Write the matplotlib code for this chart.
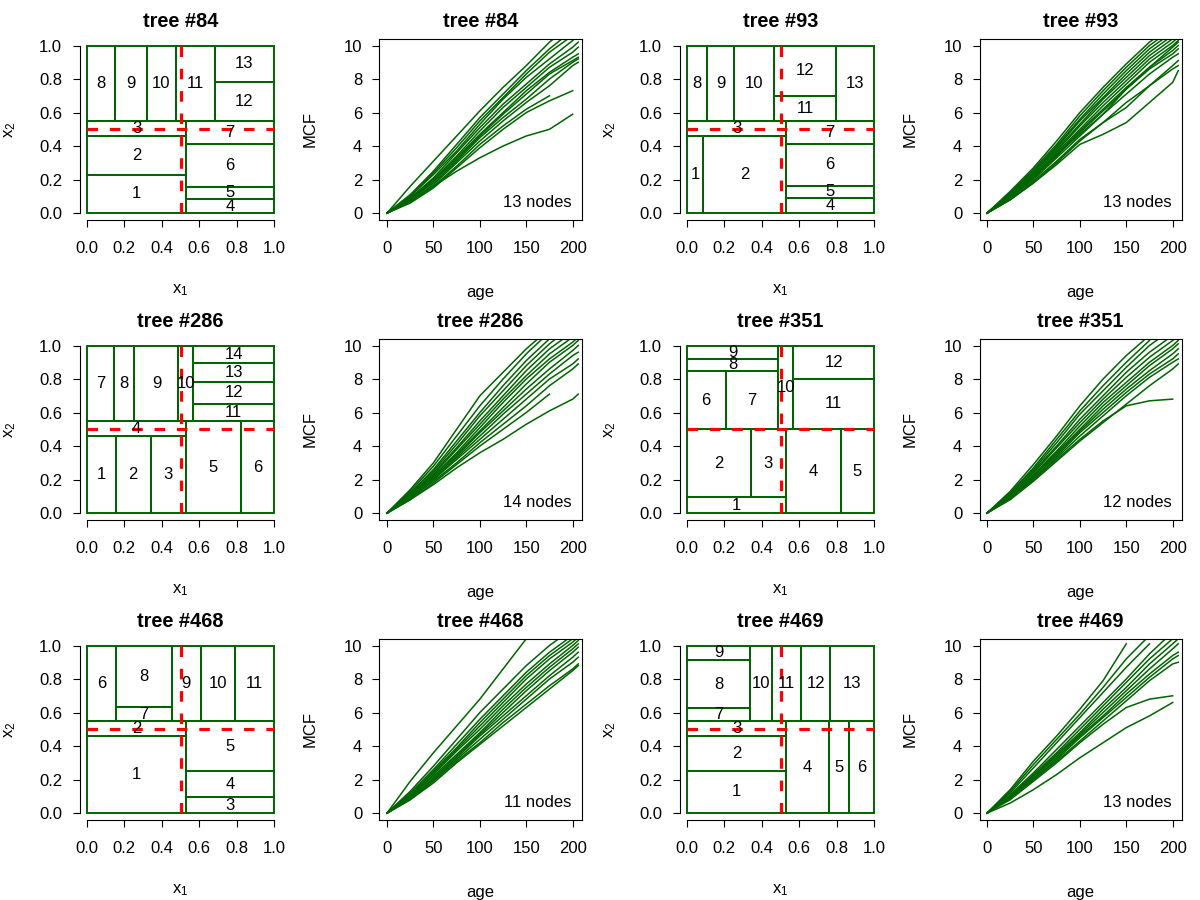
import numpy as np
import matplotlib
matplotlib.use('Agg')
import matplotlib.pyplot as plt

plt.rcParams['font.family'] = ['Liberation Sans', 'DejaVu Sans']
plt.rcParams['font.size'] = 12

GREEN = '#006400'

trees = ['84', '93', '286', '351', '468', '469']
nodes = [13, 13, 14, 12, 11, 13]

# terminal node cells (x0, x1, y0, y1); node number = index + 1
cells_84 = [(0, .53, 0, .23), (0, .53, .23, .462), (0, .53, .462, .548),
            (.53, 1, 0, .083), (.53, 1, .083, .157), (.53, 1, .157, .415),
            (.53, 1, .415, .548), (0, .152, .548, 1), (.152, .319, .548, 1),
            (.319, .477, .548, 1), (.477, .683, .548, 1), (.683, 1, .548, .784),
            (.683, 1, .784, 1)]
cells_93 = [(0, .086, 0, .462), (.086, .53, 0, .462), (0, .53, .462, .548),
            (.53, 1, 0, .091), (.53, 1, .091, .163), (.53, 1, .163, .415),
            (.53, 1, .415, .548), (0, .108, .548, 1), (.108, .253, .548, 1),
            (.253, .466, .548, 1), (.466, .797, .548, .696), (.466, .797, .696, 1),
            (.797, 1, .548, 1)]
cells_286 = [(0, .154, 0, .462), (.154, .341, 0, .462), (.341, .53, 0, .462),
             (0, .53, .462, .548), (.53, .821, 0, .548), (.821, 1, 0, .548),
             (0, .143, .548, 1), (.143, .254, .548, 1), (.254, .489, .548, 1),
             (.489, .568, .548, 1), (.568, 1, .548, .653), (.568, 1, .653, .782),
             (.568, 1, .782, .897), (.568, 1, .897, 1)]
cells_351 = [(0, .53, 0, .095), (0, .341, .095, .5), (.341, .53, .095, .5),
             (.53, .821, 0, .5), (.821, 1, 0, .5), (0, .206, .5, .849),
             (.206, .487, .5, .849), (0, .487, .849, .921), (0, .487, .921, 1),
             (.487, .568, .5, 1), (.568, 1, .5, .802), (.568, 1, .802, 1)]
cells_468 = [(0, .53, 0, .462), (0, .53, .462, .548), (.53, 1, 0, .095),
             (.53, 1, .095, .252), (.53, 1, .252, .548), (0, .154, .548, 1),
             (.154, .452, .548, .631), (.154, .452, .631, 1), (.452, .609, .548, 1),
             (.609, .79, .548, 1), (.79, 1, .548, 1)]
cells_469 = [(0, .53, 0, .254), (0, .53, .254, .462), (0, .53, .462, .548),
             (.53, .76, 0, .548), (.76, .866, 0, .548), (.866, 1, 0, .548),
             (0, .339, .548, .625), (0, .339, .625, .911), (0, .339, .911, 1),
             (.339, .452, .548, 1), (.452, .609, .548, 1), (.609, .767, .548, 1),
             (.767, 1, .548, 1)]
cells = [cells_84, cells_93, cells_286, cells_351, cells_468, cells_469]

# MCF curves read at these ages (None = curve ended)
ages = [0, 25, 50, 75, 100, 125, 150, 175, 200, 206]
mcf_84 = [
    [0, 1.6, 3.1, 4.6, 6.1, 7.5, 8.8, 10.2, 11.3, None],
    [0, 1.1, 2.5, 4.1, 5.7, 7.1, 8.5, 9.8, 10.9, None],
    [0, 1.0, 2.4, 3.9, 5.5, 6.9, 8.3, 9.6, 10.6, 10.9],
    [0, 1.0, 2.3, 3.7, 5.3, 6.8, 8.1, 9.2, 10.3, 10.6],
    [0, 0.9, 2.1, 3.6, 5.1, 6.5, 7.7, 8.9, 9.9, 10.2],
    [0, 0.9, 2.0, 3.4, 4.9, 6.3, 7.5, 8.7, 9.6, 9.9],
    [0, 0.8, 2.0, 3.3, 4.7, 6.0, 7.3, 8.4, 9.3, 9.5],
    [0, 0.8, 1.9, 3.2, 4.6, 5.9, 7.1, 8.3, 9.1, 9.3],
    [0, 0.8, 1.8, 3.1, 4.5, 5.7, 6.8, 8.0, 9.0, 9.2],
    [0, 0.7, 1.7, 3.0, 4.3, 5.5, 6.6, 7.6, 8.8, 9.0],
    [0, 0.7, 1.6, 2.8, 4.1, 5.2, 6.2, 7.0, None, None],
    [0, 0.6, 1.5, 2.7, 3.9, 5.0, 6.0, 6.7, 7.3, None],
    [0, 0.7, 1.6, 2.5, 3.3, 4.0, 4.6, 5.0, 5.9, None],
]
mcf_93 = [
    [0, 1.3, 2.7, 4.3, 6.0, 7.5, 8.9, 10.2, 11.2, None],
    [0, 1.2, 2.6, 4.1, 5.8, 7.3, 8.7, 10.0, 11.0, None],
    [0, 1.2, 2.5, 4.0, 5.6, 7.1, 8.5, 9.8, 10.8, None],
    [0, 1.1, 2.4, 3.9, 5.5, 6.9, 8.3, 9.6, 10.6, None],
    [0, 1.1, 2.4, 3.8, 5.3, 6.8, 8.1, 9.4, 10.4, 10.7],
    [0, 1.0, 2.3, 3.7, 5.2, 6.6, 7.9, 9.2, 10.2, 10.5],
    [0, 1.0, 2.2, 3.6, 5.0, 6.4, 7.7, 9.0, 10.0, 10.3],
    [0, 0.9, 2.1, 3.5, 4.9, 6.2, 7.5, 8.7, 9.7, 10.0],
    [0, 0.9, 2.1, 3.4, 4.8, 6.1, 7.4, 8.6, 9.5, 9.8],
    [0, 0.9, 2.0, 3.3, 4.6, 5.9, 7.1, 8.3, 9.3, 9.5],
    [0, 0.8, 1.9, 3.1, 4.4, 5.4, 6.3, 7.6, 8.8, 9.1],
    [0, 0.8, 1.8, 2.9, 4.1, 4.7, 5.4, 6.6, 7.8, 8.5],
    [0, 0.8, 1.8, 3.0, 4.3, 5.4, 6.6, 7.6, 8.6, 8.8],
    [0, 1.0, 2.2, 3.5, 4.7, 5.9, 7.4, 8.7, 9.9, 10.2],
]
mcf_286 = [
    [0, 1.4, 3.0, 5.0, 7.0, 8.4, 9.8, 11.0, None, None],
    [0, 1.3, 2.8, 4.6, 6.4, 8.0, 9.5, 10.8, None, None],
    [0, 1.2, 2.6, 4.3, 6.0, 7.6, 9.1, 10.4, None, None],
    [0, 1.2, 2.5, 4.1, 5.8, 7.3, 8.8, 10.1, 11.2, None],
    [0, 1.1, 2.4, 3.9, 5.5, 7.0, 8.5, 9.8, 10.8, None],
    [0, 1.1, 2.3, 3.8, 5.3, 6.8, 8.2, 9.5, 10.5, 10.8],
    [0, 1.0, 2.2, 3.6, 5.1, 6.6, 8.0, 9.2, 10.2, 10.5],
    [0, 1.0, 2.2, 3.5, 4.9, 6.3, 7.7, 9.0, 10.0, 10.3],
    [0, 1.0, 2.1, 3.4, 4.8, 6.1, 7.4, 8.6, 9.7, 10.0],
    [0, 0.9, 2.0, 3.3, 4.6, 5.9, 7.1, 8.3, 9.4, 9.6],
    [0, 0.9, 2.0, 3.2, 4.4, 5.6, 6.8, 8.0, 8.9, 9.2],
    [0, 0.9, 1.9, 3.0, 4.2, 5.3, 6.4, 7.6, 8.6, 8.9],
    [0, 0.8, 1.8, 2.9, 4.0, 5.0, 6.0, 7.1, None, None],
    [0, 0.8, 1.7, 2.7, 3.6, 4.4, 5.3, 6.1, 6.8, 7.1],
]
mcf_351 = [
    [0, 1.3, 2.9, 4.6, 6.4, 8.0, 9.4, 10.6, None, None],
    [0, 1.2, 2.7, 4.4, 6.1, 7.6, 9.0, 10.3, None, None],
    [0, 1.2, 2.6, 4.2, 5.9, 7.3, 8.7, 10.0, 11.0, None],
    [0, 1.1, 2.5, 4.0, 5.6, 7.0, 8.4, 9.6, 10.6, None],
    [0, 1.1, 2.4, 3.9, 5.4, 6.8, 8.1, 9.3, 10.3, 10.6],
    [0, 1.0, 2.3, 3.7, 5.2, 6.6, 7.8, 9.0, 10.0, 10.3],
    [0, 1.0, 2.2, 3.6, 5.0, 6.4, 7.6, 8.8, 9.8, 10.1],
    [0, 1.0, 2.2, 3.5, 4.9, 6.2, 7.4, 8.5, 9.5, 9.8],
    [0, 0.9, 2.1, 3.4, 4.8, 6.0, 7.2, 8.3, 9.2, 9.5],
    [0, 0.9, 2.0, 3.3, 4.6, 5.8, 7.0, 8.1, 9.0, 9.2],
    [0, 0.9, 2.0, 3.2, 4.4, 5.5, 6.4, 6.7, 6.8, None],
    [0, 0.8, 1.9, 3.1, 4.3, 5.4, 6.5, 7.6, 8.6, 8.9],
]
mcf_468 = [
    [0, 1.9, 3.6, 5.2, 6.8, 8.6, 10.4, None, None, None],
    [0, 1.3, 2.8, 4.4, 6.0, 7.4, 8.8, 10.0, 11.0, None],
    [0, 1.2, 2.6, 4.1, 5.6, 7.0, 8.4, 9.6, 10.6, None],
    [0, 1.1, 2.5, 3.9, 5.4, 6.8, 8.2, 9.4, 10.4, 10.6],
    [0, 1.1, 2.4, 3.8, 5.2, 6.6, 8.0, 9.2, 10.2, 10.5],
    [0, 1.0, 2.3, 3.7, 5.0, 6.4, 7.7, 8.9, 10.0, 10.3],
    [0, 1.0, 2.2, 3.5, 4.8, 6.2, 7.5, 8.7, 9.8, 10.1],
    [0, 0.9, 2.1, 3.4, 4.7, 6.0, 7.3, 8.5, 9.6, 9.9],
    [0, 0.9, 2.0, 3.3, 4.6, 5.8, 7.0, 8.2, 9.3, 9.6],
    [0, 0.9, 2.0, 3.2, 4.4, 5.6, 6.8, 8.0, 9.0, 9.3],
    [0, 0.8, 1.9, 3.1, 4.2, 5.4, 6.5, 7.6, 8.6, 8.9],
    [0, 0.8, 1.8, 3.0, 4.1, 5.2, 6.3, 7.4, 8.5, 8.8],
]
mcf_469 = [
    [0, 1.4, 3.1, 4.6, 6.2, 7.9, 10.1, None, None, None],
    [0, 1.3, 2.9, 4.4, 5.9, 7.5, 9.2, 10.6, None, None],
    [0, 1.2, 2.7, 4.2, 5.7, 7.2, 8.7, 10.1, None, None],
    [0, 1.1, 2.4, 3.8, 5.2, 6.6, 8.0, 9.5, 10.8, None],
    [0, 1.0, 2.3, 3.6, 5.0, 6.4, 7.8, 9.2, 10.4, None],
    [0, 1.0, 2.2, 3.5, 4.8, 6.2, 7.5, 8.9, 10.1, 10.4],
    [0, 1.0, 2.2, 3.4, 4.7, 6.0, 7.3, 8.6, 9.8, 10.1],
    [0, 0.9, 2.1, 3.3, 4.6, 5.8, 7.1, 8.3, 9.4, 9.6],
    [0, 0.9, 2.0, 3.2, 4.5, 5.7, 6.9, 8.1, 9.2, 9.4],
    [0, 0.9, 2.0, 3.1, 4.3, 5.5, 6.7, 7.9, 8.9, 9.0],
    [0, 0.8, 1.9, 3.0, 4.2, 5.3, 6.3, 6.8, 7.0, None],
    [0, 0.6, 1.4, 2.3, 3.3, 4.2, 5.1, 5.8, 6.6, None],
]
mcfs = [mcf_84, mcf_93, mcf_286, mcf_351, mcf_468, mcf_469]

fig = plt.figure(figsize=(12, 9), dpi=100)


def make_ax(row, col):
    # plot region in pixels, R-like layout
    left = (79.5 + 300 * col) / 1200
    bottom = 1 - (38.8 + 300 * row + 181) / 900
    return fig.add_axes([left, bottom, 202 / 1200, 181 / 900])


def style_ticks(ax):
    ax.tick_params(direction='out', length=5, width=0.8, labelsize=12,
                   color='black')
    ax.tick_params(axis='x', pad=10.5)
    ax.tick_params(axis='y', pad=7.5)


def titles(ax, txt):
    ax.text(0.5, 1.066, txt, transform=ax.transAxes, ha='center',
            va='baseline', fontsize=14.4, fontweight='bold')


for k in range(6):
    row, col = k // 2, (k % 2) * 2

    # partition panel
    ax = make_ax(row, col)
    for i, (x0, x1, y0, y1) in enumerate(cells[k]):
        ax.add_patch(plt.Rectangle((x0, y0), x1 - x0, y1 - y0, fill=False,
                                   edgecolor=GREEN, linewidth=1.4))
        ax.text((x0 + x1) / 2, (y0 + y1) / 2, str(i + 1), ha='center',
                va='center', fontsize=12)
    ax.plot([0.5, 0.5], [0, 1], color='red', lw=2.3, dashes=(3.3, 3.7))
    ax.plot([0, 1], [0.5, 0.5], color='red', lw=2.3, dashes=(3.3, 3.7))
    ax.set_xlim(-0.04, 1.04)
    ax.set_ylim(-0.04, 1.04)
    ticks = np.arange(0, 1.01, 0.2)
    ax.set_xticks(ticks)
    ax.set_yticks(ticks)
    ax.set_xticklabels(['%.1f' % t for t in ticks])
    ax.set_yticklabels(['%.1f' % t for t in ticks])
    for s in ['top', 'right']:
        ax.spines[s].set_visible(False)
    ax.spines['left'].set_bounds(0, 1)
    ax.spines['bottom'].set_bounds(0, 1)
    ax.spines['left'].set_linewidth(0.8)
    ax.spines['bottom'].set_linewidth(0.8)
    style_ticks(ax)
    titles(ax, 'tree #' + trees[k])
    ax.text(0.5, -0.39, r'$\mathregular{x_1}$', transform=ax.transAxes,
            ha='center', va='center', fontsize=12)
    ax.text(-0.344, 0.5, r'$\mathregular{x_2}$', transform=ax.transAxes,
            ha='center', va='center', rotation=90, fontsize=12)

    # MCF panel
    ax = make_ax(row, col + 1)
    for curve in mcfs[k]:
        vals = np.array([np.nan if v is None else v for v in curve])
        ax.plot(ages, vals, color=GREEN, lw=1.1)
    ax.set_xlim(-8.1, 209.5)
    ax.set_ylim(-0.4, 10.4)
    ax.set_xticks([0, 50, 100, 150, 200])
    ax.set_yticks([0, 2, 4, 6, 8, 10])
    for s in ax.spines.values():
        s.set_linewidth(0.8)
    style_ticks(ax)
    titles(ax, 'tree #' + trees[k])
    ax.text(0.952, 0.096, '%d nodes' % nodes[k], transform=ax.transAxes,
            ha='right', va='center', fontsize=12)
    ax.text(0.5, -0.4, 'age', transform=ax.transAxes, ha='center',
            va='center', fontsize=12)
    ax.text(-0.343, 0.5, 'MCF', transform=ax.transAxes, ha='center',
            va='center', rotation=90, fontsize=12)

fig.savefig('out.png', dpi=100)
